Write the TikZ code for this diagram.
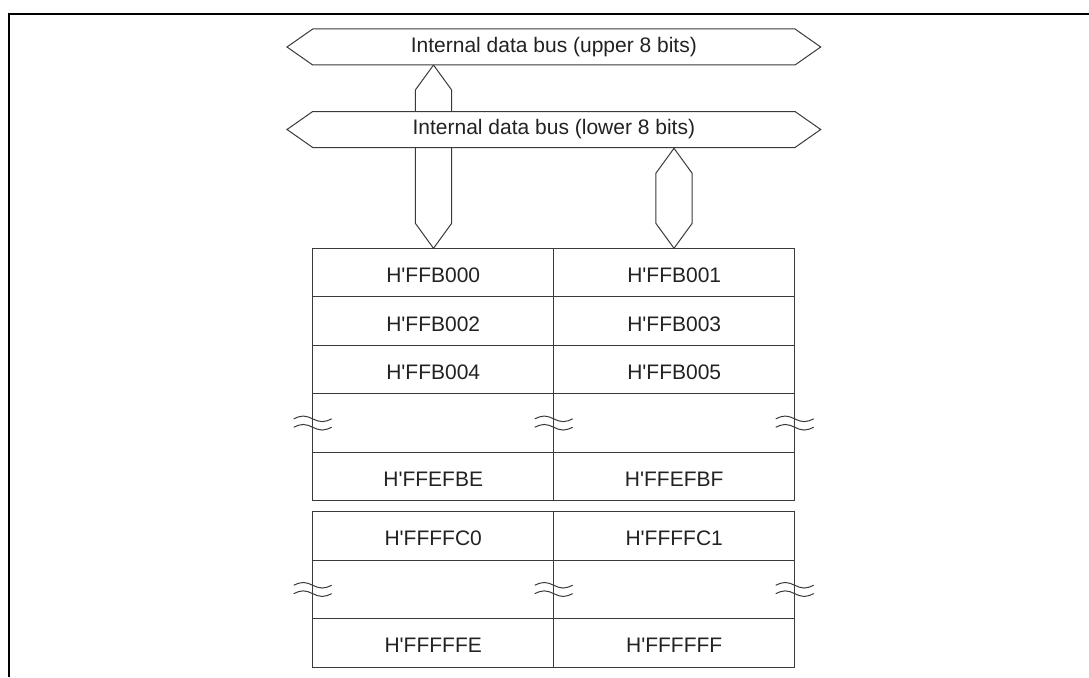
\documentclass[tikz,border=0pt]{standalone}
\usepackage{fontspec}
\setmainfont{Liberation Sans}
\usetikzlibrary{shapes.symbols,positioning}
\definecolor{busline}{HTML}{3A3A3A}
\definecolor{celltext}{HTML}{222222}

\begin{document}
\begin{tikzpicture}[x=1pt, y=-1pt, node distance=0pt,
    every node/.style={font=\fontsize{21}{25}\selectfont, text=celltext},
    bus/.style={draw=busline, line width=1pt, fill=white, signal, signal to=east and west,
      signal pointer angle=70, minimum width=533.7pt, minimum height=36pt, inner sep=0pt},
    vbus/.style={draw=busline, line width=1pt, fill=white, signal, signal to=north and south,
      signal pointer angle=72, minimum width=36.4pt, inner sep=0pt},
    cell/.style={draw=busline, line width=1pt, minimum width=241pt, minimum height=48.5pt,
      inner sep=0pt, outer sep=0pt, text height=20pt, text depth=0pt},
    gapcell/.style={cell, minimum height=58.5pt}]
        \useasboundingbox (0,0) rectangle (1089,677);
        \draw[line width=2pt] (1089,14) -- (9,14) -- (9,677);
        % memory cells, even addresses left, odd addresses right
        \node[cell] (a0) at (433.2,272.55) {H\textquotesingle FFB000};
        \node[cell,right=of a0] (b0) {H\textquotesingle FFB001};
        \node[cell,below=of a0] (a1) {H\textquotesingle FFB002};
        \node[cell,right=of a1] (b1) {H\textquotesingle FFB003};
        \node[cell,below=of a1] (a2) {H\textquotesingle FFB004};
        \node[cell,right=of a2] (b2) {H\textquotesingle FFB005};
        \node[gapcell,below=of a2] (a3) {};
        \node[gapcell,right=of a3] (b3) {};
        \node[cell,below=of a3] (a4) {H\textquotesingle FFEFBE};
        \node[cell,right=of a4] (b4) {H\textquotesingle FFEFBF};
        \node[cell,below=10.9pt of a4] (a5) {H\textquotesingle FFFFC0};
        \node[cell,right=of a5] (b5) {H\textquotesingle FFFFC1};
        \node[gapcell,below=of a5] (a6) {};
        \node[gapcell,right=of a6] (b6) {};
        \node[cell,below=of a6] (a7) {H\textquotesingle FFFFFE};
        \node[cell,right=of a7] (b7) {H\textquotesingle FFFFFF};
        % break marks
        \foreach \p in {a3.west,a3.east,b3.east,a6.west,a6.east,b6.east}
          \draw[busline,line width=1pt]
            ([shift={(-19,-4.2)}]\p) sin ++(9.5,-2.8) cos ++(9.5,2.8) sin ++(9.5,2.8) cos ++(9.5,-2.8)
            ([shift={(-19,4.2)}]\p) sin ++(9.5,-2.8) cos ++(9.5,2.8) sin ++(9.5,2.8) cos ++(9.5,-2.8);
        % buses (body length = span minus both pointers)
        \node[vbus,minimum height=133.2pt] (lbus) at (433.5,156.65) {};
        \node[vbus,minimum height=49.9pt] (rbus) at (674,198.3) {};
        \node[bus] (upper) at (553.85,47) {Internal data bus (upper 8 bits)};
        \node[bus] (lower) at (553.85,129.5) {Internal data bus (lower 8 bits)};
      \end{tikzpicture}
\end{document}
